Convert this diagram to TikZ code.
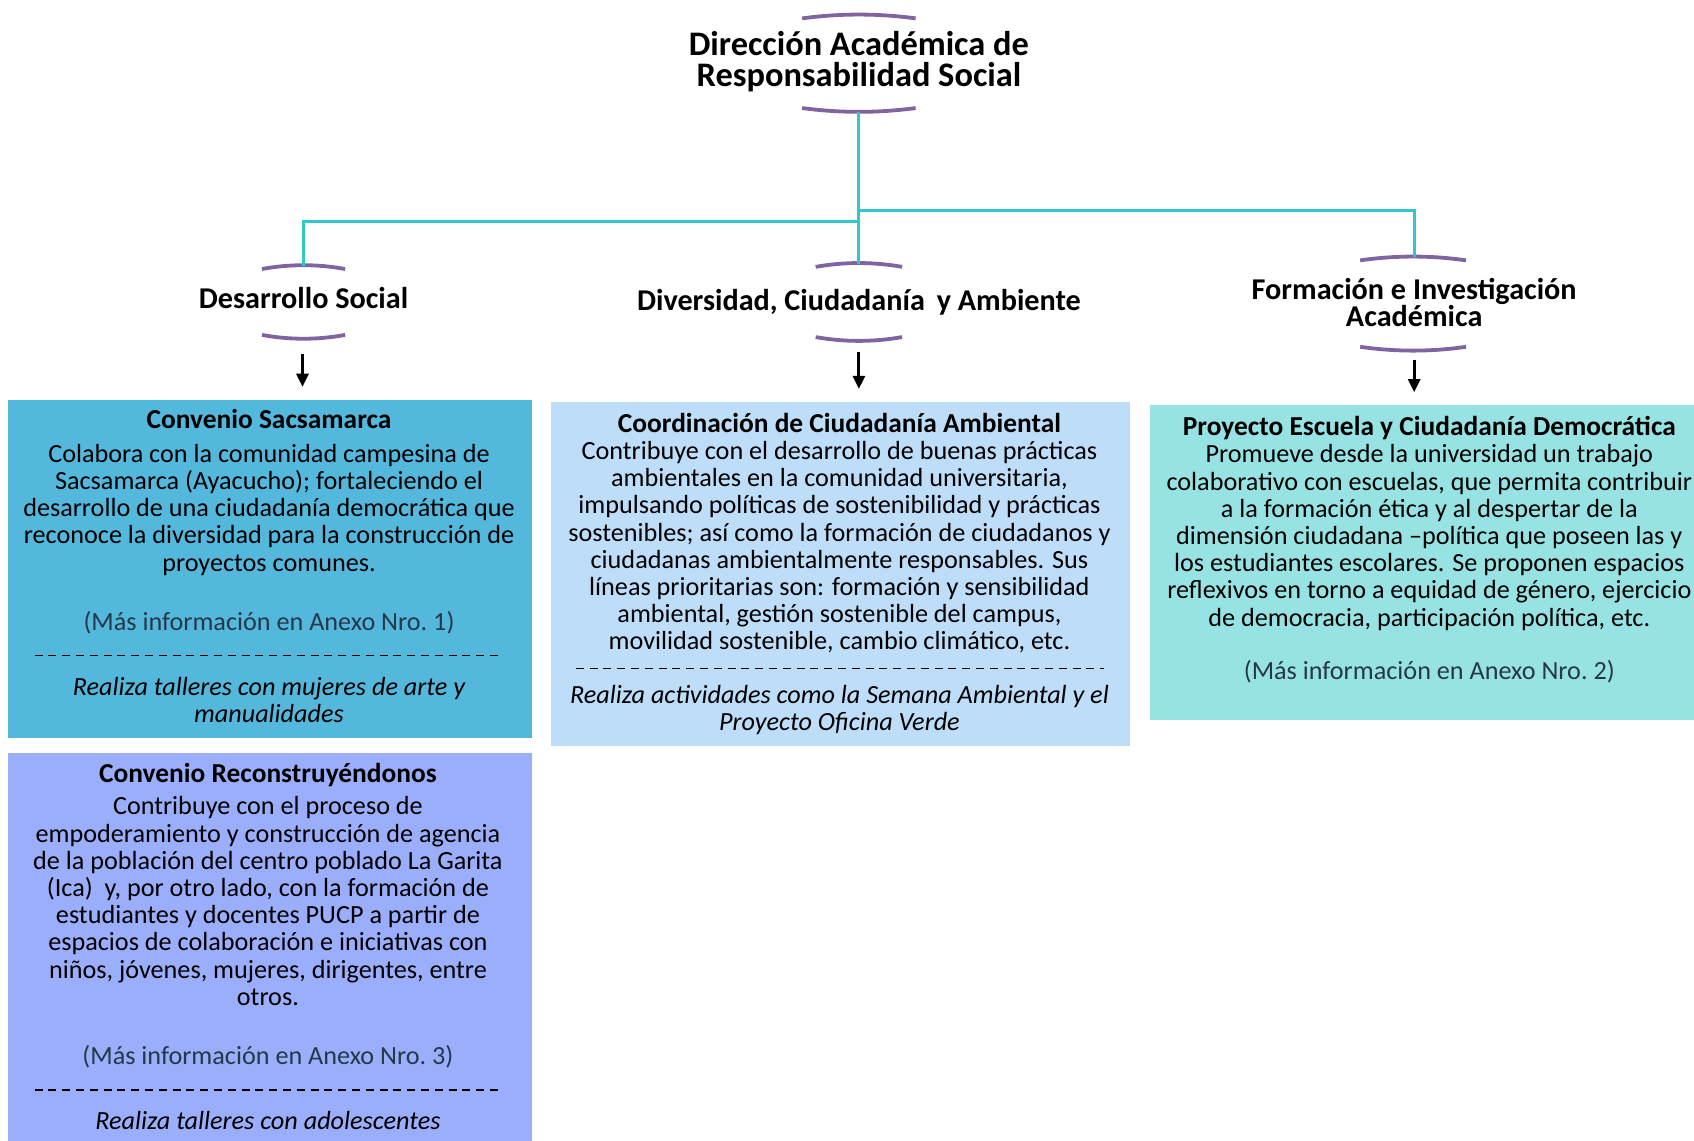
\documentclass[tikz,border=0pt]{standalone}
\usepackage{fontspec}
\setmainfont{Carlito}
\usetikzlibrary{arrows.meta}

\definecolor{morado}{HTML}{8064A2}
\definecolor{turquesa}{HTML}{30C8CC}
\definecolor{cajaSac}{HTML}{54B8DC}
\definecolor{cajaAmb}{HTML}{BDDDF9}
\definecolor{cajaEsc}{HTML}{97E3E3}
\definecolor{cajaRec}{HTML}{9AAEFB}
\definecolor{anexo}{HTML}{24384A}

\begin{document}
\begin{tikzpicture}[x=0.5402pt,y=-0.5402pt]

\tikzset{brk/.style = {draw=morado, line width=1.9pt}}
\tikzset{link/.style = {draw=turquesa, line width=1.6pt}}
\tikzset{arr/.style = {-{Triangle[width=6pt,length=6.5pt]}, line width=1.4pt, shorten >=6.5pt}}
\tikzset{box/.style = {anchor=north west, inner sep=0pt, outer sep=0pt}}
\tikzset{head/.style = {anchor=base, align=center, inner sep=0pt, font=\fontsize{15.1}{13.5}\selectfont\bfseries}}
\tikzset{txt/.style = {anchor=base, align=center, inner sep=0pt, font=\fontsize{13.1}{13.6}\selectfont}}
\tikzset{cursiva/.style = {txt, font=\fontsize{13.1}{13.6}\selectfont\itshape}}
\tikzset{sep/.style = {dash pattern=on 4pt off 2.9pt, line width=0.7pt}}

\newcommand{\masinfo}[1]{{\color{anexo}(Más información en Anexo Nro.~#1)}}

\useasboundingbox (0,0) rectangle (1568,1056);

% titulo y areas
\node[head, font=\fontsize{17.2}{15.6}\selectfont\bfseries] (dir) at (795,80) {Dirección Académica de\\Responsabilidad Social};
\node[head] (ds) at (281,286) {Desarrollo Social};
\node[head] (dc) at (795,287) {Diversidad, Ciudadanía\, y Ambiente};
\node[head] (fi) at (1309,302) {Formación e Investigación\\Académica};

\foreach \cx/\yt/\yb/\w in {795/17/100/52.5, 281/249/310/38.5, 795/247/312/40, 1308/241/321/49} {
  \draw[brk] (\cx-\w,\yt) .. controls (\cx-\w/3,\yt-4.7) and (\cx+\w/3,\yt-4.7) .. (\cx+\w,\yt);
  \draw[brk] (\cx-\w,\yb) .. controls (\cx-\w/3,\yb+4.7) and (\cx+\w/3,\yb+4.7) .. (\cx+\w,\yb);
}

\coordinate (dirB) at (795,104);
\coordinate (dsT) at (281,246);
\coordinate (dcT) at (795,244);
\coordinate (fiT) at (1309,238);
\coordinate (dsA) at (280,328);
\coordinate (dcA) at (795,326);
\coordinate (fiA) at (1309,333);

% cajas
\node[box, fill=cajaSac, minimum width=262pt, minimum height=169.1pt] (sac) at (7,370) {};
\node[box, fill=cajaAmb, minimum width=289.5pt, minimum height=172.3pt] (amb) at (510,372) {};
\node[box, fill=cajaEsc, minimum width=272.3pt, minimum height=157.2pt] (esc) at (1064,375) {};
\node[box, fill=cajaRec, minimum width=262pt, minimum height=193.9pt] (rec) at (7,697) {};

\draw[link] (dirB) -- (dcT);
\draw[link] (dirB) -- ++(0,101) -| (dsT);
\draw[link] (dirB) -- ++(0,91) -| (fiT);

\draw[arr] (dsA) -- (sac.north -| dsA);
\draw[arr] (dcA) -- (amb.north -| dcA);
\draw[arr] (fiA) -- (esc.north -| fiA);

% textos
\node[txt] (sacT) at (249,583.5) {\textbf{\fontsize{13.7}{13.6}\selectfont Convenio Sacsamarca}\\[3.1pt]
  Colabora con la comunidad campesina de\\
  Sacsamarca (Ayacucho); fortaleciendo el\\
  desarrollo de una ciudadanía democrática que\\
  reconoce la diversidad para la construcción de\\
  proyectos comunes.\\[16.1pt]
  \masinfo{1}};
\draw[sep] (32,607) -- (466,607);
\node[cursiva] (sacI) at (249,668.5) {Realiza talleres con mujeres de arte y\\manualidades};

\node[txt] (ambT) at (777,601.5) {\textbf{\fontsize{13.7}{13.6}\selectfont Coordinación de Ciudadanía Ambiental}\\
  Contribuye con el desarrollo de buenas prácticas\\
  ambientales en la comunidad universitaria,\\
  impulsando políticas de sostenibilidad y prácticas\\
  sostenibles; así como la formación de ciudadanos y\\
  ciudadanas ambientalmente responsables. Sus\\
  líneas prioritarias son: formación y sensibilidad\\
  ambiental, gestión sostenible del campus,\\
  movilidad sostenible, cambio climático, etc.};
\draw[sep] (533,619) -- (1022,619);
\node[cursiva] (ambI) at (777,676.5) {Realiza actividades como la Semana Ambiental y el\\Proyecto Oficina Verde};

\node[txt] (escT) at (1323,628.5) {\textbf{\fontsize{13.7}{13.6}\selectfont Proyecto Escuela y Ciudadanía Democrática}\\
  Promueve desde la universidad un trabajo\\
  colaborativo con escuelas, que permita contribuir\\
  a la formación ética y al despertar de la\\
  dimensión ciudadana –política que poseen las y\\
  los estudiantes escolares. Se proponen espacios\\
  reflexivos en torno a equidad de género, ejercicio\\
  de democracia, participación política, etc.\\[12.9pt]
  \masinfo{2}};

\node[txt] (recT) at (248,985.5) {\textbf{\fontsize{13.7}{13.6}\selectfont Convenio Reconstruyéndonos}\\[2.6pt]
  Contribuye con el proceso de\\
  empoderamiento y construcción de agencia\\
  de la población del centro poblado La Garita\\
  (Ica)\ \ y, por otro lado, con la formación de\\
  estudiantes y docentes PUCP a partir de\\
  espacios de colaboración e iniciativas con\\
  niños, jóvenes, mujeres, dirigentes, entre\\
  otros.\\[16.1pt]
  \masinfo{3}};
\draw[sep] (32,1009) -- (466,1009);
\node[cursiva] (recI) at (248,1045.5) {Realiza talleres con adolescentes};

\end{tikzpicture}
\end{document}
